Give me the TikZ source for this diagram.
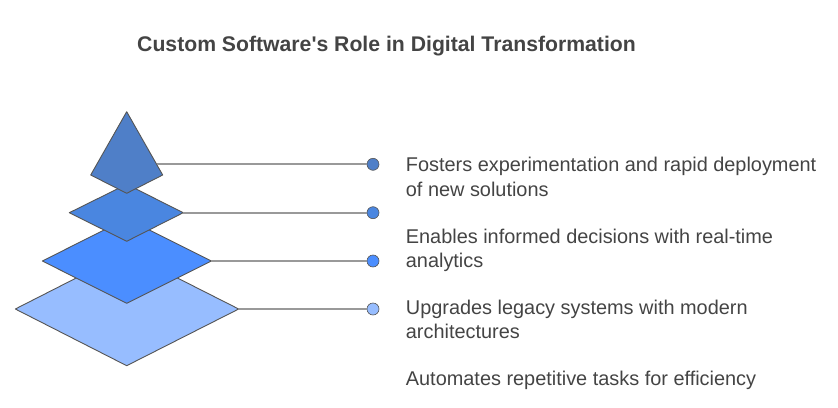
\documentclass[tikz,border=0pt]{standalone}
\usepackage{fontspec}
\setmainfont{Liberation Sans}
\definecolor{cA}{HTML}{4F7FC8}
\definecolor{cB}{HTML}{4A86E0}
\definecolor{cC}{HTML}{4B8EFF}
\definecolor{cD}{HTML}{97BDFF}
\definecolor{txt}{HTML}{444444}
\definecolor{edge}{HTML}{555555}
\definecolor{lead}{HTML}{999999}
\tikzset{
  layer/.style={draw=edge, line width=0.9pt, line join=round},
  leader/.style={draw=lead, line width=1.8pt},
  dot/.style={circle, draw=edge, line width=0.6pt, minimum size=12pt, inner sep=0pt},
  label/.style={anchor=base west, align=left, text=txt, inner sep=0pt,
    font=\fontsize{19.9}{24.4}\selectfont},
}
\begin{document}
\begin{tikzpicture}[x=1pt,y=-1pt]
\useasboundingbox (0,0) rectangle (838,407);
\node[font=\bfseries\fontsize{21.2}{25}\selectfont, text=txt, anchor=base] (title) at (386.5,51.7) {Custom Software\textquotesingle s Role in Digital Transformation};
% layers (bottom to top)
\filldraw[layer, fill=cD] (126.7,252.3) -- (238.7,309) -- (126.7,365.7) -- (15.3,309) -- cycle;
\filldraw[layer, fill=cC] (126.7,218.7) -- (211.3,261) -- (126.7,303.3) -- (42.3,261) -- cycle;
\filldraw[layer, fill=cB] (126.7,184.3) -- (183.3,212.7) -- (126.7,241.3) -- (69.3,212.7) -- cycle;
\filldraw[layer, fill=cA] (126.7,111.7) -- (162.7,175) -- (126.7,193.3) -- (90.7,175) -- cycle;
\coordinate (s1) at (156.6,164.3);
\coordinate (s2) at (183.3,212.7);
\coordinate (s3) at (211.3,261);
\coordinate (s4) at (238.7,309);
\node[dot, fill=cA] (d1) at (373,164.3) {};
\node[dot, fill=cB] (d2) at (373,212.7) {};
\node[dot, fill=cC] (d3) at (373,261) {};
\node[dot, fill=cD] (d4) at (373,309) {};
\draw[leader] (s1) -- (d1.west);
\draw[leader] (s2) -- (d2.west);
\draw[leader] (s3) -- (d3.west);
\draw[leader] (s4) -- (d4.west);
% multi-line nodes: base anchor sits on the last line
\node[label] (t1) at (405.7,196.1) {Fosters experimentation and rapid deployment\\of new solutions};
\node[label] (t2) at (405.7,267.7) {Enables informed decisions with real-time\\analytics};
\node[label] (t3) at (405.7,338.9) {Upgrades legacy systems with modern\\architectures};
\node[label] (t4) at (405.7,385.3) {Automates repetitive tasks for efficiency};
\end{tikzpicture}
\end{document}
